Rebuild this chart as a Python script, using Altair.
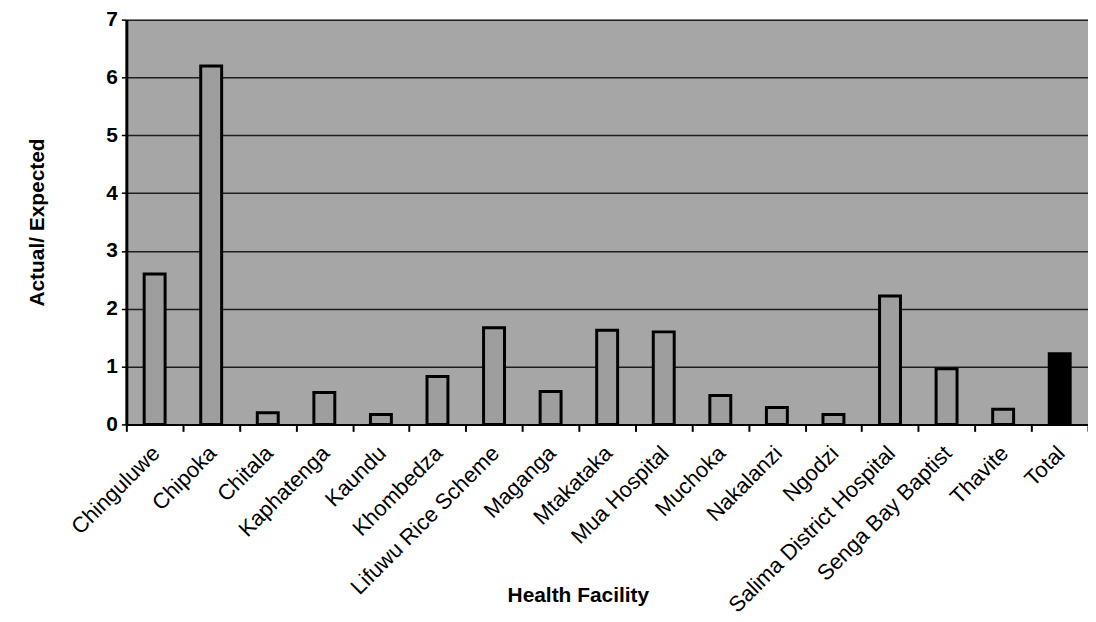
import altair as alt
import pandas as pd

categories = ["Chinguluwe", "Chipoka", "Chitala", "Kaphatenga", "Kaundu", "Khombedza",
              "Lifuwu Rice Scheme", "Maganga", "Mtakataka", "Mua Hospital", "Muchoka",
              "Nakalanzi", "Ngodzi", "Salima District Hospital", "Senga Bay Baptist",
              "Thavite", "Total"]
values = [2.6, 6.2, 0.2, 0.55, 0.17, 0.83, 1.67, 0.57, 1.63, 1.6, 0.5, 0.29, 0.17,
          2.22, 0.96, 0.26, 1.22]
kinds = ["facility"] * 16 + ["total"]
y_ticks = [0, 1, 2, 3, 4, 5, 6, 7]

df = pd.DataFrame({"facility": categories, "value": values, "kind": kinds})

FONT = "Liberation Sans"

chart = alt.Chart(df).mark_bar(
    width=alt.RelativeBandSize(0.37), stroke="black", strokeWidth=3
).encode(
    x=alt.X("facility:N", sort=categories,
            scale=alt.Scale(paddingInner=0, paddingOuter=0),
            axis=alt.Axis(title="Health Facility", labelAngle=-45, labelAlign="right",
                          labelBaseline="top", labelFont=FONT, labelFontSize=22,
                          labelColor="black", labelOffset=-6, labelPadding=11,
                          labelLimit=0, labelOverlap=False,
                          domainColor="black", domainWidth=2,
                          tickColor="black", tickWidth=2, tickSize=7, tickBand="extent",
                          grid=False,
                          titleFont=FONT, titleFontSize=21, titleFontWeight="bold",
                          titleColor="black", titleX=454, titleY=172,
                          titleBaseline="middle", titleAlign="center")),
    y=alt.Y("value:Q", scale=alt.Scale(domain=[0, 7], nice=False),
            axis=alt.Axis(values=y_ticks, title="Actual/ Expected", grid=True,
                          gridColor="#1e1e1e", gridWidth=1.5,
                          domainColor="black", domainWidth=3,
                          tickColor="black", tickWidth=1.5, tickSize=5,
                          labelFont=FONT, labelFontSize=21, labelFontWeight="bold",
                          labelColor="black", labelPadding=4,
                          titleFont=FONT, titleFontSize=21, titleFontWeight="bold",
                          titleColor="black", titleX=-89, titleY=203.5,
                          titleAngle=-90, titleAlign="center", titleBaseline="middle")),
    fill=alt.Fill("kind:N", scale=alt.Scale(domain=["facility", "total"],
                                            range=["#9e9e9e", "#000000"]), legend=None),
).properties(
    width=967, height=407,
    autosize=alt.AutoSizeParams(type="none"),
    padding={"left": 119, "top": 10, "right": 0, "bottom": 194},
    background="white",
).configure_view(fill="#a6a6a6", stroke=None)

chart.save("out.html", embed_options={"renderer": "svg", "actions": False})
